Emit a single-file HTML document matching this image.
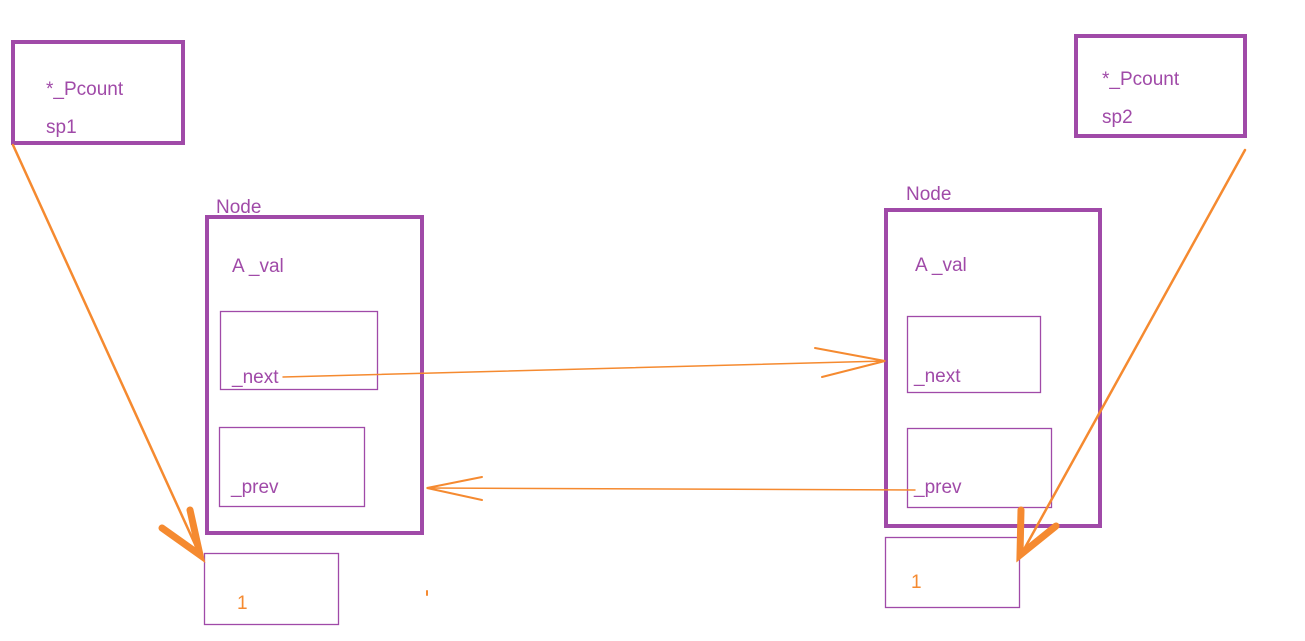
<!DOCTYPE html>
<html><head><meta charset="utf-8"><style>
html,body{margin:0;padding:0;background:#fff;width:1305px;height:641px;overflow:hidden}
svg text{font-family:"Liberation Sans",sans-serif;font-size:19px;fill:#a04aa8}
</style></head><body>
<svg width="1305" height="641" xmlns="http://www.w3.org/2000/svg">
<g fill="none" stroke="#a04aa8">
<rect x="13" y="42" width="170" height="101" stroke-width="4"/>
<rect x="1076" y="36" width="169" height="100" stroke-width="4"/>
<rect x="207" y="217" width="215" height="316" stroke-width="4"/>
<rect x="886" y="210" width="214" height="316" stroke-width="4"/>
<rect x="220.5" y="311.5" width="157" height="78" stroke-width="1.3"/>
<rect x="219.5" y="427.5" width="145" height="79" stroke-width="1.3"/>
<rect x="907.5" y="316.5" width="133" height="76" stroke-width="1.3"/>
<rect x="907.5" y="428.5" width="144" height="79" stroke-width="1.3"/>
<rect x="204.5" y="553.5" width="134" height="71" stroke-width="1.3"/>
<rect x="885.5" y="537.5" width="134" height="70" stroke-width="1.3"/>
</g>
<text x="46" y="95">*_Pcount</text>
<text x="46" y="133">sp1</text>
<text x="1102" y="85">*_Pcount</text>
<text x="1102" y="123">sp2</text>
<text x="216" y="213">Node</text>
<text x="906" y="200">Node</text>
<text x="232" y="272">A _val</text>
<text x="915" y="271">A _val</text>
<text x="232" y="383">_next</text>
<text x="914" y="382">_next</text>
<text x="231" y="493">_prev</text>
<text x="914" y="493">_prev</text>
<text x="237" y="609" style="fill:#f58a30">1</text>
<text x="911" y="588" style="fill:#f58a30">1</text>
<g stroke="#f58a30" fill="none" stroke-linecap="round">
<line x1="13" y1="145" x2="199" y2="553" stroke-width="2.5"/>
<path d="M162 528 L200 555 L190 510" stroke-width="7"/>
<line x1="1245" y1="150" x2="1022" y2="553" stroke-width="2.5"/>
<path d="M1021 510 L1020 555 L1056 526" stroke-width="7"/>
<line x1="283" y1="377" x2="885" y2="361" stroke-width="1.5"/>
<path d="M815 348 L885 361 L822 377" stroke-width="2"/>
<line x1="915" y1="490" x2="427" y2="488" stroke-width="1.5"/>
<path d="M482 477 L427 488 L482 500" stroke-width="2"/>
<line x1="427" y1="591" x2="427" y2="595" stroke-width="2"/>
</g>
</svg>
</body></html>
